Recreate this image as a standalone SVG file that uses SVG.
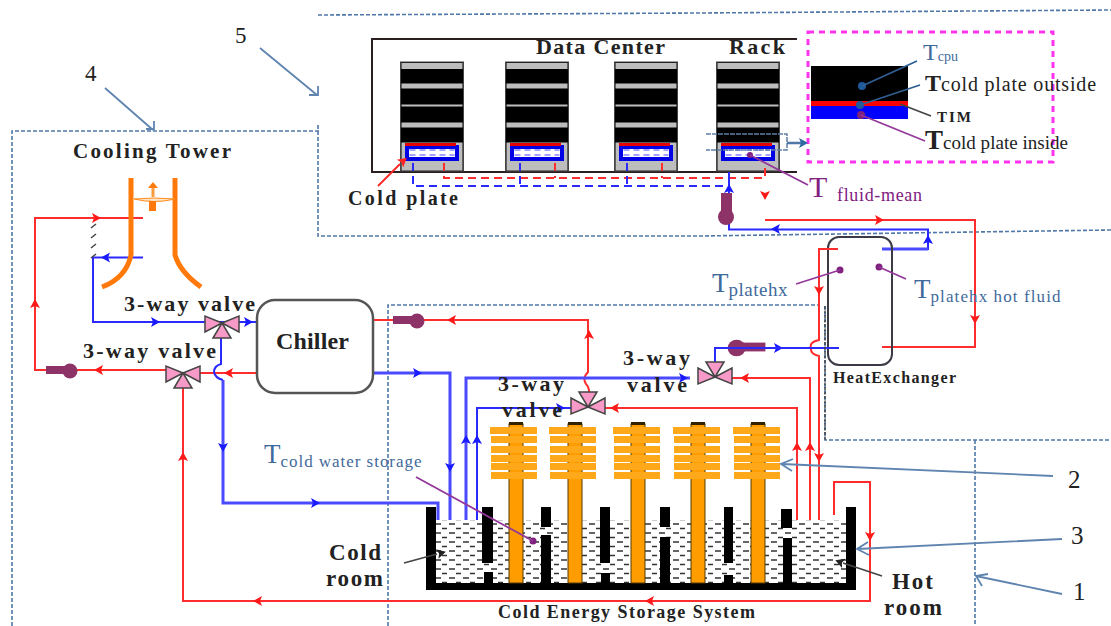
<svg xmlns="http://www.w3.org/2000/svg" xmlns:xlink="http://www.w3.org/1999/xlink" width="1111" height="626" viewBox="0 0 1111 626">
<style>
text{font-family:"Liberation Serif","Times New Roman",serif;fill:#222}
.blue{fill:#3f6a9c}
.pur{fill:#80207f}
.zone{fill:none;stroke:#4f78a8;stroke-width:1.6;stroke-dasharray:4 2}
.r{fill:none;stroke:#ff2d2d;stroke-width:2}
.u{fill:none;stroke:#2a2aff;stroke-width:2}
.u3{fill:none;stroke:#4a4aff;stroke-width:3}
.rd{fill:none;stroke:#ff2d2d;stroke-width:2;stroke-dasharray:8 5}
.ud{fill:none;stroke:#2a2aff;stroke-width:2;stroke-dasharray:8 5}
.ptr{fill:none;stroke:#5f84b0;stroke-width:1.8}
.sen{fill:none;stroke:#93379a;stroke-width:1.8}
.blk{fill:none;stroke:#444;stroke-width:1.6}
.ar{fill:#ff1a1a}.au{fill:#1a1aff}
.or{fill:none;stroke:#ff7a0a;stroke-width:5}
.fin{fill:#ffa81a}
.col{fill:#ff9d00;stroke:#553a00;stroke-width:1}
.gr{fill:#bdbdbd}
</style>
<defs>
<path id="ah" d="M5 0L-4 -5L-2 0L-4 5Z"/>
<g id="valve"><path d="M0 0L-17 -7V9ZM0 0L17 -7V9ZM0 0L-9 15H9Z" fill="#f79ac8" stroke="#444" stroke-width="1.5"/></g>
<g id="pump"><rect x="-27" y="-4" width="26" height="8" fill="#8e3368"/><circle cx="-3" cy="1" r="7.5" fill="#8e3368"/></g>
<pattern id="wat" width="14" height="9" patternUnits="userSpaceOnUse"><rect width="14" height="9" fill="#fff"/><path d="M1 2h6M8 6.5h5" stroke="#333" stroke-width="1.3"/></pattern>
<g id="rack">
<rect x="0" y="0" width="63" height="109" fill="#000" stroke="#444"/>
<rect x="1" y="1" width="61" height="6" class="gr"/><rect x="1" y="21.500" width="61" height="5" class="gr"/><rect x="1" y="42.500" width="61" height="2" class="gr"/><rect x="1" y="60.500" width="61" height="5" class="gr"/>
<rect x="1" y="80.500" width="61" height="28" class="gr"/>
<rect x="6.500" y="85" width="50" height="12" fill="#fff" stroke="#0000e6" stroke-width="4"/>
<rect x="4.500" y="81" width="51" height="3" fill="#e60000"/>
<path d="M9 88H54M9 93H54" stroke="#4a4aff" stroke-width="1.2" stroke-dasharray="6 4"/>
</g>
<g id="fins"><rect x="0" y="0" width="47" height="7" class="fin"/><rect x="1" y="9" width="46" height="7" class="fin"/><rect x="1" y="19" width="46" height="7" class="fin"/><rect x="1" y="28" width="46" height="7" class="fin"/><rect x="1" y="36" width="46" height="7" class="fin"/><rect x="1" y="45" width="46" height="7" class="fin"/></g>
</defs>

<rect width="1111" height="626" fill="#fff"/>

<g id="zones">
<path class="zone" d="M318 15L700 13L1111 10"/>
<path class="zone" d="M318 125V236H700L1111 230"/>
<path class="zone" d="M12 626V131H319"/>
<path class="zone" d="M388 626V305H820"/>
<path class="zone" d="M825 306V440H1111"/>
<path class="zone" d="M975 440V626"/>
</g>

<g id="data-center">
<path d="M797 39H372V172H797" fill="none" stroke="#2b2020" stroke-width="2"/>
<text x="536" y="54" font-size="22" font-weight="bold" textLength="129">Data Center</text>
<text x="729" y="54" font-size="22" font-weight="bold" textLength="56">Rack</text>
</g>
<g id="rack-1"><use href="#rack" x="400.500" y="62"/></g>
<g id="rack-2"><use href="#rack" x="505.500" y="62"/></g>
<g id="rack-3"><use href="#rack" x="614.500" y="62"/></g>
<g id="rack-4"><use href="#rack" x="716.500" y="62"/><circle cx="750" cy="155" r="3" fill="#80207f"/></g>

<g id="cpu-detail">
<rect x="808" y="32" width="245" height="130" fill="none" stroke="#ff33ee" stroke-width="3" stroke-dasharray="6 5"/>
<rect x="811" y="66" width="97" height="35" fill="#000"/>
<rect x="811" y="101" width="97" height="5" fill="#f00"/>
<rect x="811" y="106" width="97" height="13" fill="#00f"/>
<circle cx="862" cy="86" r="4" fill="#1f5a9c"/><circle cx="860" cy="105" r="4" fill="#1f5a9c"/><circle cx="861" cy="115" r="4" fill="#80207f"/>
<path d="M862 86L917 61M860 105L920 85" stroke="#2f5f95" stroke-width="1.8"/>
<path class="blk" d="M900 104L931 116"/><path class="sen" d="M861 115L925 141"/>
<text x="923" y="60" font-size="24" class="blue">T<tspan font-size="14" dy="1">cpu</tspan></text>
<text x="925" y="91" font-size="24" font-weight="bold">T<tspan font-size="20" font-weight="normal" textLength="155">cold plate outside</tspan></text>
<text x="937" y="122" font-size="15" font-weight="bold" textLength="34">TIM</text>
<text x="925" y="149" font-size="27" font-weight="bold">T<tspan font-size="19" font-weight="normal" textLength="125">cold plate inside</tspan></text>
<path d="M706 134H787V150H706" fill="none" stroke="#5f7ea8" stroke-width="1.5" stroke-dasharray="5 1"/>
<path d="M787 143H805" stroke="#4f78a8" stroke-width="2.500"/><use href="#ah" x="803" y="143" fill="#2f6aa0"/>
</g>

<g id="connectors">
<path class="rd" d="M444 163V178H765V165"/>
<path class="rd" d="M555 163V178M662 163V178"/>
<path class="ud" d="M413 163V186H729"/>
<path class="ud" d="M520 163V186M627 163V186"/>
<path class="u" d="M729 172V229.500H928V249H882"/>
<path class="u3" d="M882 249H928"/>
<path class="r" d="M765 220H975V347H882"/>
<path class="r" d="M838 249H819V340Q809 342 811 348Q810 354 819 356V520"/>
<path class="u" d="M839 348H715V365"/>
<path class="r" d="M732 378H810V520"/>
<path class="r" d="M605 408H797V520"/>
<path class="r" d="M834 515V482H870V601H183V385"/>
<path class="r" d="M143 218H35V370H170"/>
<path class="u" d="M143 257.500H93V322H257"/>
<path class="r" d="M257 373H199"/>
<path class="u" d="M221 337V364Q214 366 214 372Q215 378 223 380"/>
<path class="u3" d="M223 380V503H438V520"/>
<path class="r" d="M373 320H588V372Q582 378 586 384Q590 388 589 396"/>
<path class="u3" d="M373 373H450V520"/>
<path class="u3" d="M466 520V378H690"/>
<path class="u" d="M477 520V408H572"/>
<g class="ar">
<use href="#ah" x="96" y="218"/><use href="#ah" x="35" y="304" transform="rotate(-90 35 304)"/><use href="#ah" x="99" y="370" transform="rotate(180 99 370)"/>
<use href="#ah" x="229" y="373" transform="rotate(180 229 373)"/><use href="#ah" x="183" y="457" transform="rotate(-90 183 457)"/><use href="#ah" x="258" y="601" transform="rotate(180 258 601)"/>
<use href="#ah" x="650" y="601" transform="rotate(180 650 601)"/><use href="#ah" x="452" y="320" transform="rotate(180 452 320)"/><use href="#ah" x="589" y="335" transform="rotate(-90 589 335)"/>
<use href="#ah" x="615" y="408" transform="rotate(180 615 408)"/><use href="#ah" x="745" y="378" transform="rotate(180 745 378)"/><use href="#ah" x="797" y="447" transform="rotate(-90 797 447)"/>
<use href="#ah" x="810" y="447" transform="rotate(-90 810 447)"/><use href="#ah" x="819" y="290" transform="rotate(90 819 290)"/><use href="#ah" x="819" y="457" transform="rotate(90 819 457)"/>
<use href="#ah" x="975" y="319" transform="rotate(90 975 319)"/><use href="#ah" x="879" y="220"/><use href="#ah" x="765" y="195" transform="rotate(90 765 195)"/><use href="#ah" x="870" y="536" transform="rotate(90 870 536)"/>
</g>
<g class="au">
<use href="#ah" x="106" y="257.500" transform="rotate(180 106 257.500)"/><use href="#ah" x="155" y="322"/><use href="#ah" x="248" y="322"/>
<use href="#ah" x="223" y="447" transform="rotate(90 223 447)"/><use href="#ah" x="315" y="503"/><use href="#ah" x="417" y="373"/>
<use href="#ah" x="450" y="467" transform="rotate(90 450 467)"/><use href="#ah" x="466" y="440" transform="rotate(-90 466 440)"/><use href="#ah" x="477" y="440" transform="rotate(-90 477 440)"/>
<use href="#ah" x="683" y="378"/><use href="#ah" x="560" y="408"/><use href="#ah" x="776" y="229" transform="rotate(180 776 229)"/>
<use href="#ah" x="928" y="240" transform="rotate(-90 928 240)"/><use href="#ah" x="729" y="189" transform="rotate(-90 729 189)"/><use href="#ah" x="778" y="348"/>
</g>
</g>

<g id="cooling-tower">
<text x="73" y="158" font-size="21" font-weight="bold" textLength="158">Cooling Tower</text>
<path class="or" d="M131 178V255Q126 278 102 287"/>
<path class="or" d="M175 178V255Q180 272 201 287"/>
<path d="M134 199Q155 204 175 199Q155 197 134 199Z" fill="#ffe6c8" stroke="#ff8a1a"/>
<rect x="149" y="201" width="7" height="10" fill="#ff7a0a"/>
<path d="M153 197V184" stroke="#ff9a3a" stroke-width="3"/><path d="M148 188L153 182L158 188Z" fill="#ff7a0a"/>
<path d="M96 224L91 228M96 234L91 238M96 244L91 248M96 254L91 258" stroke="#444" stroke-width="1.500"/>
</g>
<g id="valve-1"><use href="#valve" x="222" y="323"/><text x="124" y="311" font-size="22" font-weight="bold" textLength="131">3-way valve</text></g>
<g id="valve-2"><use href="#valve" x="183" y="373"/><text x="83" y="358" font-size="22" font-weight="bold" textLength="133">3-way valve</text></g>
<g id="valve-3"><use href="#valve" transform="translate(715 377) scale(1 -1)"/><text x="623" y="365" font-size="22" font-weight="bold" textLength="67">3-way</text><text x="627" y="392" font-size="22" font-weight="bold" textLength="60">valve</text></g>
<g id="valve-4"><use href="#valve" transform="translate(588 407) scale(1 -1)"/><text x="498" y="391" font-size="22" font-weight="bold" textLength="66">3-way</text><text x="502" y="417" font-size="22" font-weight="bold" textLength="60">valve</text></g>
<g id="pump-1"><use href="#pump" x="73" y="370"/></g>
<g id="pump-2"><use href="#pump" x="420" y="320"/></g>
<g id="pump-3"><use href="#pump" transform="translate(733 347) scale(-1.200 1.100)"/></g>
<g id="pump-4"><rect x="721" y="193" width="11" height="24" fill="#8e3368"/><circle cx="726" cy="217" r="8" fill="#8e3368"/></g>
<g id="chiller">
<rect x="257" y="300" width="116" height="93" rx="18" fill="#fff" stroke="#555" stroke-width="2.500"/>
<text x="276" y="349" font-size="24" font-weight="bold" textLength="73">Chiller</text>
</g>
<g id="heat-exchanger">
<rect x="828" y="237" width="64" height="128" rx="11" fill="none" stroke="#3b3b46" stroke-width="2"/>
<path class="r" d="M820 249H838"/><path class="u" d="M715 348H839"/>
<path d="M825 306V440" stroke="#444" stroke-width="1.500" stroke-dasharray="3 1.500"/>
<text x="833" y="383" font-size="16" font-weight="bold" textLength="123">HeatExchanger</text>
<circle cx="840" cy="270" r="3.500" fill="#80207f"/><circle cx="879" cy="267" r="3.500" fill="#80207f"/>
<path class="sen" d="M796 284L840 270M879 267L906 279"/>
<text x="712" y="292" font-size="27" class="blue">T<tspan font-size="19" dy="4" textLength="59">platehx</tspan></text>
<text x="914" y="298" font-size="27" class="blue">T<tspan font-size="17" dy="4" textLength="130">platehx hot fluid</tspan></text>
</g>
<g id="t-fluid">
<path class="sen" d="M750 155L808 185"/>
<text x="809" y="197" font-size="30" class="pur">T</text>
<text x="837" y="201" font-size="18" class="pur" textLength="85">fluid-mean</text>
</g>
<g id="cold-plate-label">
<text x="348" y="205" font-size="20" font-weight="bold" textLength="110">Cold plate</text>
<path d="M378 186L400 164" stroke="#f22" stroke-width="1.800"/><use href="#ah" transform="translate(403 161) rotate(-40)" fill="#f22"/>
</g>

<g id="storage-tank">
<rect x="436" y="520" width="410" height="63" fill="url(#wat)"/>
<path d="M426 507H436V583H846V507H856V590H426Z" fill="#000"/>
<path d="M482 507h11v56h-11zM484 572h9v11h-9zM541 507h10v20h-10zM541 535h10v48h-10zM600 507h10v56h-10zM601 573h9v10h-9zM660 507h10v20h-10zM660 537h10v46h-10zM724 507h9v56h-9zM724 575h9v8h-9zM781 509h11v19h-11zM783 538h9v45h-9z" fill="#000"/>
<rect x="509" y="424" width="14" height="159" class="col"/><rect x="568" y="424" width="14" height="159" class="col"/><rect x="631" y="424" width="14" height="159" class="col"/><rect x="691" y="424" width="14" height="159" class="col"/><rect x="751" y="424" width="14" height="159" class="col"/>
<path d="M509 422h14v3h-14zM568 422h14v3h-14zM631 422h14v3h-14zM691 422h14v3h-14zM751 422h14v3h-14z" fill="#332200"/>
<use href="#fins" x="490" y="427"/><use href="#fins" x="549" y="427"/><use href="#fins" x="613" y="427"/><use href="#fins" x="673" y="427"/><use href="#fins" x="733" y="427"/>
<circle cx="533" cy="541" r="3.500" fill="#80207f"/>
<path class="sen" d="M416 477L533 541"/>
<text x="264" y="463" font-size="27" class="blue">T<tspan font-size="17" dy="4" textLength="141">cold water storage</tspan></text>
<text x="329" y="560" font-size="23" font-weight="bold" textLength="52">Cold</text>
<text x="326" y="586" font-size="23" font-weight="bold" textLength="57">room</text>
<path class="blk" d="M404 563L437 554"/><use href="#ah" x="441" y="553" fill="#222" transform="rotate(-15 441 553)"/>
<text x="892" y="589" font-size="23" font-weight="bold" textLength="41">Hot</text>
<text x="884" y="615" font-size="23" font-weight="bold" textLength="58">room</text>
<path class="blk" d="M882 576L843 563"/><use href="#ah" x="840" y="562" fill="#222" transform="rotate(200 840 562)"/>
<text x="498" y="618" font-size="18" font-weight="bold" textLength="257">Cold Energy Storage System</text>
</g>

<g id="callouts">
<text x="85" y="81" font-size="23">4</text><path class="ptr" d="M105 88L153 130M146 129H154V121"/>
<text x="235" y="43" font-size="23">5</text><path class="ptr" d="M260 48L317 95M309 95H318V86"/>
<text x="1068" y="488" font-size="25">2</text><path class="ptr" d="M1053 476L782 464M793 459L781 464L792 471"/>
<text x="1071" y="544" font-size="25">3</text><path class="ptr" d="M1062 539L857 549M868 542L857 549L869 555"/>
<text x="1073" y="600" font-size="25">1</text><path class="ptr" d="M1062 594L976 576M982 586L976 576L988 574"/>
</g>
</svg>
